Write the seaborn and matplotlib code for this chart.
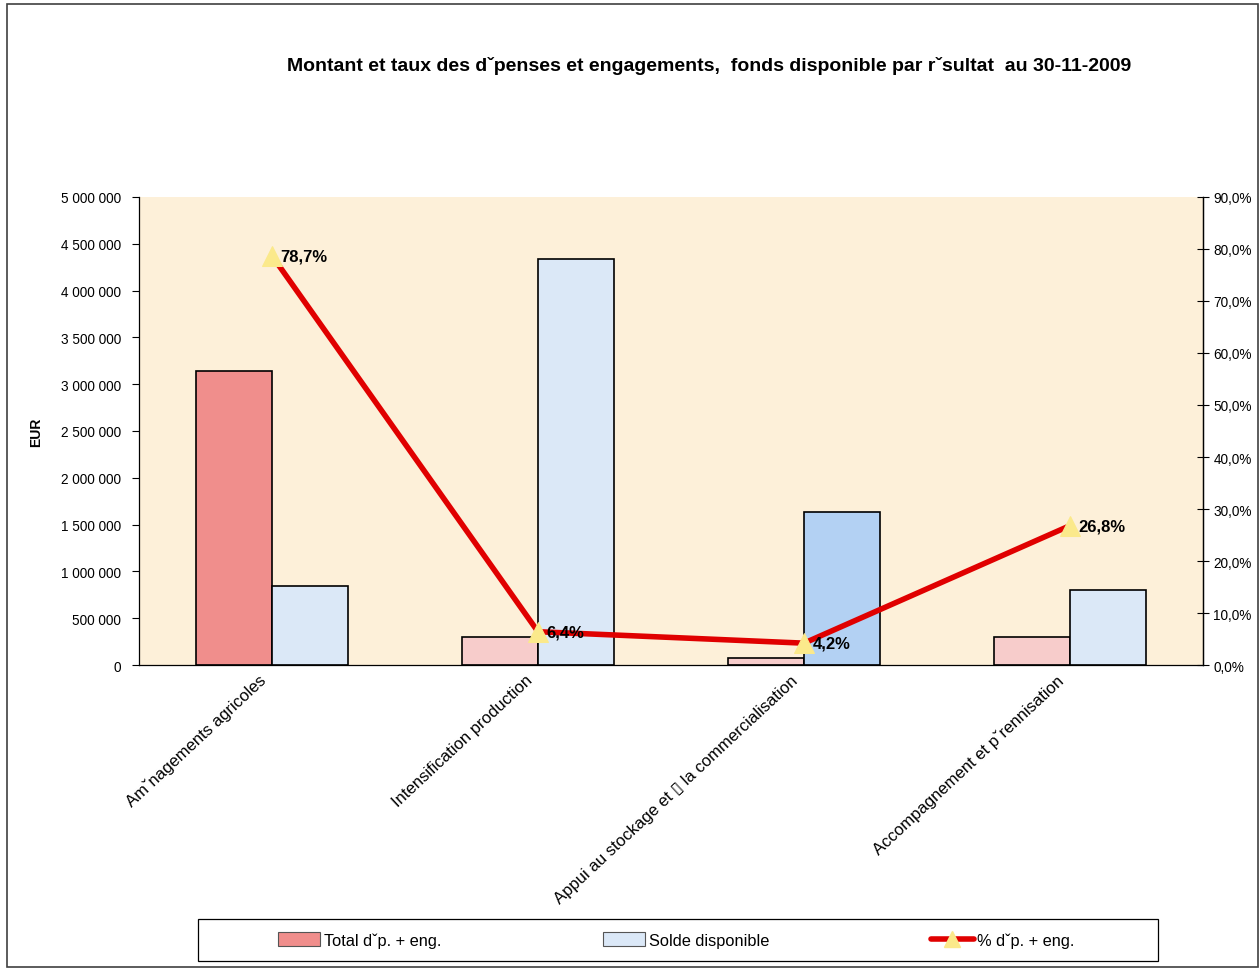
import pandas as pd
import matplotlib
matplotlib.use('Agg')
import matplotlib.pyplot as plt
import matplotlib.transforms as mtransforms
import seaborn as sns
from matplotlib.patches import Rectangle, Patch
from matplotlib.lines import Line2D
from matplotlib.ticker import FuncFormatter, FixedLocator

categories = ['Amˇnagements agricoles', 'Intensification production',
              'Appui au stockage et \u25af la commercialisation',
              'Accompagnement et pˇrennisation']
total_dep = [3145000, 300000, 75000, 300000]
solde = [845000, 4340000, 1630000, 800000]
pct = [78.7, 6.4, 4.2, 26.8]
pct_labels = ['78,7%', '6,4%', '4,2%', '26,8%']

series_names = ['Total dˇp. + eng.', 'Solde disponible']
line_name = '% dˇp. + eng.'

red_colors = ['#f08e8c', '#f7cccb', '#f7cccb', '#f7cccb']
blue_colors = ['#dbe8f7', '#dbe8f7', '#b3d1f3', '#dbe8f7']

df = pd.DataFrame({
    'cat': categories * 2,
    'serie': [series_names[0]] * 4 + [series_names[1]] * 4,
    'val': total_dep + solde,
})

sns.set_style('white')
plt.rcParams['font.family'] = ['Liberation Sans', 'DejaVu Sans']
plt.rcParams['text.color'] = 'black'
plt.rcParams['axes.labelcolor'] = 'black'
plt.rcParams['xtick.color'] = 'black'
plt.rcParams['ytick.color'] = 'black'

fig = plt.figure(figsize=(12.59, 9.70), dpi=100)
ax = fig.add_axes([139 / 1259, 1 - 666 / 970, (1203 - 139) / 1259, (666 - 198) / 970])
ax.set_facecolor('#fdf0d9')

sns.barplot(data=df, x='cat', y='val', hue='serie', order=categories,
            hue_order=series_names, width=0.57, gap=0, dodge=True,
            edgecolor='black', linewidth=1.2, ax=ax, legend=False,
            palette=['#f08e8c', '#dbe8f7'])

# recolour bars one by one (first 4 = red series, next 4 = blue series)
bars = [p for p in ax.patches if p.get_height() > 0]
for p, c in zip(bars, red_colors + blue_colors):
    p.set_facecolor(c)

ax.set_ylim(0, 5000000)
ax.set_xlim(-0.5, 3.5)
ax.yaxis.set_major_locator(FixedLocator(range(0, 5000001, 500000)))
ax.yaxis.set_major_formatter(FuncFormatter(lambda v, _: f'{int(v):,}'.replace(',', ' ')))
ax.set_ylabel('EUR', fontsize=10, fontweight='bold', labelpad=13)
ax.set_xlabel('')

ax.set_xticks([-0.5, 0.5, 1.5, 2.5, 3.5])
ax.set_xticklabels([])
ax.set_xticks(range(4), minor=True)
ax.set_xticklabels(categories, minor=True, rotation=43, ha='right', va='center',
                   rotation_mode='anchor', fontsize=12)
ax.tick_params(axis='x', which='minor', length=0, pad=9)
ax.tick_params(axis='x', which='major', length=6, direction='inout', width=0.8)
ax.tick_params(axis='y', length=5, direction='out', width=0.8, labelsize=9.8, left=True, pad=8)
shift = mtransforms.ScaledTranslation(-8 / 100, 0, fig.dpi_scale_trans)
for lab in ax.get_xticklabels(minor=True):
    lab.set_transform(lab.get_transform() + shift)

for s in ['left', 'bottom', 'right']:
    ax.spines[s].set_color('black')
    ax.spines[s].set_linewidth(0.9)
ax.spines['top'].set_visible(False)

ax2 = ax.twinx()
sns.lineplot(x=list(range(4)), y=pct, ax=ax2, color='#e00000', linewidth=4,
             marker='^', markersize=14, markerfacecolor='#fbe98b',
             markeredgecolor='#fbe98b', legend=False)
ax2.set_ylim(0, 90)
ax2.set_yticks(range(0, 91, 10))
ax2.yaxis.set_major_formatter(FuncFormatter(lambda v, _: f'{v:.1f}%'.replace('.', ',')))
ax2.tick_params(axis='y', length=8, direction='inout', width=0.8, labelsize=9.8, right=True)
ax2.set_ylabel('')
for s in ['left', 'top', 'bottom']:
    ax2.spines[s].set_visible(False)
ax2.spines['right'].set_color('black')
ax2.spines['right'].set_linewidth(0.9)

for i, (v, lab) in enumerate(zip(pct, pct_labels)):
    ax2.annotate(lab, (i, v), xytext=(6, 0), textcoords='offset points',
                 ha='left', va='center', fontsize=12, fontweight='bold')

fig.text(709 / 1259, 1 - 66 / 970,
         'Montant et taux des dˇpenses et engagements,  fonds disponible par rˇsultat  au 30-11-2009',
         ha='center', va='center', fontsize=14, fontweight='bold')

# legend (frame drawn separately to match the wide box)
handles = [Patch(facecolor='#f08e8c', edgecolor='#555555', linewidth=0.8),
           Patch(facecolor='#dbe8f7', edgecolor='#555555', linewidth=0.8),
           Line2D([], [], color='#e00000', linewidth=4, marker='^',
                  markersize=12, markerfacecolor='#fbe98b', markeredgecolor='#fbe98b')]
fig.legend(handles, series_names + [line_name], ncol=3,
           loc='center', bbox_to_anchor=(676 / 1259, 1 - 941 / 970),
           frameon=False, fontsize=11.8, handlelength=2.6,
           handleheight=0.9, handletextpad=0.2, columnspacing=9.87,
           borderpad=0, borderaxespad=0)
fig.patches.append(Rectangle((198 / 1259, 1 - 962 / 970), (1158 - 198) / 1259, (962 - 920) / 970,
                             transform=fig.transFigure, fill=False,
                             edgecolor='black', linewidth=0.9))

fig.patches.append(Rectangle((7 / 1259, 1 - 968 / 970), (1258 - 7) / 1259, (968 - 5) / 970,
                             transform=fig.transFigure, fill=False,
                             edgecolor='#404040', linewidth=1.2))

fig.savefig('out.png', dpi=100)
